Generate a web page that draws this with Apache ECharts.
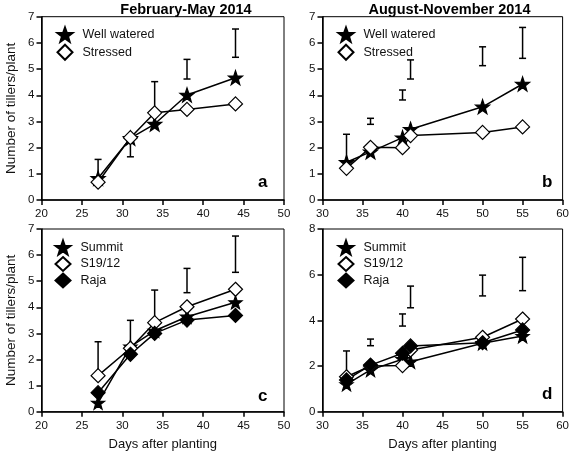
<!DOCTYPE html>
<html><head><meta charset="utf-8">
<script src="https://cdn.jsdelivr.net/npm/echarts@6/dist/echarts.min.js"></script>
<style>html,body{margin:0;padding:0;background:#fff}#c{width:572px;height:461px}</style>
</head><body><div id="c"></div>
<script>
// Panel a: February-May 2014
const daysA = [27, 31, 34, 38, 44];
const wellA = [0.83, 2.36, 2.90, 4.01, 4.67];
const stressA = [0.68, 2.38, 3.33, 3.46, 3.67];
const errLoA = [0.75, 1.65, 3.30, 4.62, 5.45];
const errHiA = [1.55, 2.35, 4.52, 5.37, 6.53];
// Panel b: August-November 2014
const daysB = [33, 36, 40, 41, 50, 55];
const wellB = [1.44, 1.84, 2.38, 2.70, 3.56, 4.43];
const stressB = [1.21, 2.01, 2.00, 2.46, 2.58, 2.79];
const errLoB = [1.45, 2.89, 3.82, 4.62, 5.13, 5.41];
const errHiB = [2.51, 3.12, 4.20, 5.35, 5.85, 6.59];
// Panel c
const daysC = [27, 31, 34, 38, 44];
const summitC = [0.34, 2.49, 3.10, 3.64, 4.19];
const s19C = [1.38, 2.43, 3.41, 4.02, 4.69];
const rajaC = [0.73, 2.20, 3.00, 3.51, 3.69];
const errLoC = [1.38, 2.43, 3.41, 4.56, 5.34];
const errHiC = [2.68, 3.50, 4.66, 5.49, 6.73];
// Panel d
const daysD = [33, 36, 40, 41, 50, 55];
const summitD = [1.20, 1.83, 2.30, 2.19, 3.00, 3.31];
const s19D = [1.53, 2.00, 2.02, 2.70, 3.26, 4.06];
const rajaD = [1.39, 2.04, 2.56, 2.88, 3.02, 3.58];
const errLoD = [1.50, 2.89, 3.75, 4.55, 5.07, 5.30];
const errHiD = [2.66, 3.18, 4.28, 5.50, 5.98, 6.76];

const titles = ['February-May 2014', 'August-November 2014'];
const letters = ['a', 'b', 'c', 'd'];
const yName = 'Number of tillers/plant';
const xName = 'Days after planting';

const FONT = '"Liberation Sans", Arial, sans-serif';
const STAR = 'path://M0,-10L2.35,-3.24L9.51,-3.09L3.8,1.24L5.88,8.09L0,4L-5.88,8.09L-3.8,1.24L-9.51,-3.09L-2.35,-3.24Z';

const grids = [
  {left: 41.5, top: 16.7, width: 242.5, height: 183.3},
  {left: 322.5, top: 16.7, width: 243.5, height: 183.3},
  {left: 41.5, top: 229, width: 242.5, height: 182.7},
  {left: 322.5, top: 229, width: 243.5, height: 182.7}
].map(g => Object.assign(g, {show: true, borderColor: '#000', borderWidth: 1, containLabel: false}));

function xAxis(i, min, max, name) {
  return {type: 'value', gridIndex: i, min: min, max: max, interval: 5,
    name: name || '', nameLocation: 'middle', nameGap: 26,
    nameTextStyle: {fontFamily: FONT, fontSize: 13, color: '#111'},
    axisLine: {lineStyle: {color: '#000', width: 1.5}},
    axisTick: {show: true, length: 5, lineStyle: {color: '#000', width: 1.5}},
    axisLabel: {fontFamily: FONT, fontSize: 11.5, color: '#111', margin: 8},
    splitLine: {show: false}};
}
function yAxis(i, max, interval, name) {
  return {type: 'value', gridIndex: i, min: 0, max: max, interval: interval,
    name: name || '', nameLocation: 'middle', nameGap: 23,
    nameTextStyle: {fontFamily: FONT, fontSize: 13.5, color: '#111'},
    axisLine: {lineStyle: {color: '#000', width: 1.5}},
    axisTick: {show: true, length: 5, lineStyle: {color: '#000', width: 1.5}},
    axisLabel: {fontFamily: FONT, fontSize: 11.5, color: '#111', margin: 7},
    splitLine: {show: false}};
}

function zip(xs, ys) { return xs.map((x, k) => [x, ys[k]]); }
function zip3(xs, lo, hi) { return xs.map((x, k) => [x, lo[k], hi[k]]); }

function lineSeries(name, idx, xs, ys, symbol, fill, size) {
  return {type: 'line', name: name, xAxisIndex: idx, yAxisIndex: idx,
    data: zip(xs, ys), symbol: symbol, symbolSize: size, showSymbol: true,
    lineStyle: {color: '#000', width: 1.5},
    itemStyle: {color: fill, borderColor: '#000', borderWidth: 1.2},
    emphasis: {disabled: true}, z: 3, animation: false};
}
function errSeries(idx, xs, lo, hi) {
  return {type: 'custom', xAxisIndex: idx, yAxisIndex: idx, data: zip3(xs, lo, hi), z: 2,
    renderItem: function (params, api) {
      const x = api.value(0);
      const p1 = api.coord([x, api.value(1)]);
      const p2 = api.coord([x, api.value(2)]);
      const c = 3.5;
      const st = {stroke: '#000', lineWidth: 1.5};
      return {type: 'group', children: [
        {type: 'line', shape: {x1: p1[0], y1: p1[1], x2: p2[0], y2: p2[1]}, style: st},
        {type: 'line', shape: {x1: p1[0] - c, y1: p1[1], x2: p1[0] + c, y2: p1[1]}, style: st},
        {type: 'line', shape: {x1: p2[0] - c, y1: p2[1], x2: p2[0] + c, y2: p2[1]}, style: st}
      ]};
    }, animation: false};
}

const legendBase = {orient: 'vertical', itemWidth: 15, itemHeight: 15, itemGap: 1, padding: 0,
  textStyle: {fontFamily: FONT, fontSize: 12.5, color: '#111', padding: [0, 0, 0, 5]},
  selectedMode: false};
const legendBase3 = Object.assign({}, legendBase, {itemHeight: 14, itemGap: 0.5});

const option = {
  backgroundColor: '#fff',
  animation: false,
  title: [
    {text: titles[0], left: 181, top: -3, textAlign: 'center',
      textStyle: {fontFamily: FONT, fontSize: 14.5, fontWeight: 'bold', color: '#000'}},
    {text: titles[1], left: 444.5, top: -3, textAlign: 'center',
      textStyle: {fontFamily: FONT, fontSize: 14.5, fontWeight: 'bold', color: '#000'}}
  ],
  grid: grids,
  xAxis: [xAxis(0, 20, 50), xAxis(1, 30, 60), xAxis(2, 20, 50, xName), xAxis(3, 30, 60, xName)],
  yAxis: [yAxis(0, 7, 1, yName), yAxis(1, 7, 1), yAxis(2, 7, 1, yName), yAxis(3, 8, 2)],
  legend: [
    Object.assign({}, legendBase, {left: 56.5, top: 26.5, data: [
      {name: 'Well watered', icon: STAR}, {name: 'Stressed', icon: 'diamond'}]}),
    Object.assign({}, legendBase, {left: 337.5, top: 26.5, data: [
      {name: 'Well watered', icon: STAR}, {name: 'Stressed', icon: 'diamond'}]}),
    Object.assign({}, legendBase3, {left: 54.5, top: 239.5, data: [
      {name: 'Summit', icon: STAR}, {name: 'S19/12', icon: 'diamond'}, {name: 'Raja', icon: 'diamond'}]}),
    Object.assign({}, legendBase3, {left: 337.5, top: 239.5, data: [
      {name: 'Summit', icon: STAR}, {name: 'S19/12', icon: 'diamond'}, {name: 'Raja', icon: 'diamond'}]})
  ],
  graphic: [
    {type: 'text', left: 258, top: 174, style: {text: letters[0], font: 'bold 17px ' + FONT, fill: '#000'}},
    {type: 'text', left: 542, top: 174, style: {text: letters[1], font: 'bold 17px ' + FONT, fill: '#000'}},
    {type: 'text', left: 258, top: 388, style: {text: letters[2], font: 'bold 17px ' + FONT, fill: '#000'}},
    {type: 'text', left: 542, top: 386, style: {text: letters[3], font: 'bold 17px ' + FONT, fill: '#000'}}
  ],
  series: [
    errSeries(0, daysA, errLoA, errHiA),
    lineSeries('Well watered', 0, daysA, wellA, STAR, '#000', 14),
    lineSeries('Stressed', 0, daysA, stressA, 'diamond', '#fff', 14),
    errSeries(1, daysB, errLoB, errHiB),
    lineSeries('Well watered', 1, daysB, wellB, STAR, '#000', 14),
    lineSeries('Stressed', 1, daysB, stressB, 'diamond', '#fff', 14),
    errSeries(2, daysC, errLoC, errHiC),
    lineSeries('Summit', 2, daysC, summitC, STAR, '#000', 13),
    lineSeries('S19/12', 2, daysC, s19C, 'diamond', '#fff', 14),
    lineSeries('Raja', 2, daysC, rajaC, 'diamond', '#000', 14),
    errSeries(3, daysD, errLoD, errHiD),
    lineSeries('Summit', 3, daysD, summitD, STAR, '#000', 13),
    lineSeries('S19/12', 3, daysD, s19D, 'diamond', '#fff', 14),
    lineSeries('Raja', 3, daysD, rajaD, 'diamond', '#000', 14)
  ]
};
const chart = echarts.init(document.getElementById('c'), null, {renderer: 'canvas'});
chart.setOption(option);
</script>
</body></html>
